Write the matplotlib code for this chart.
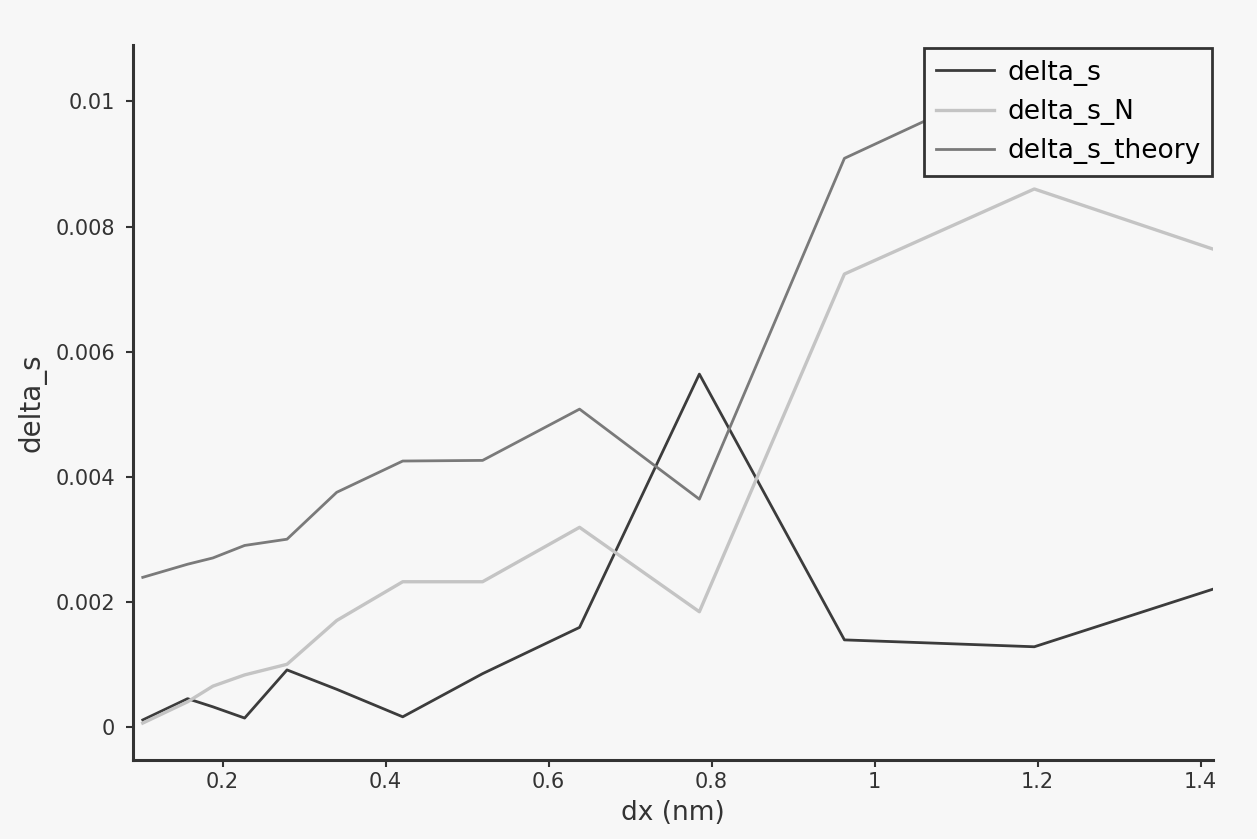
import matplotlib.pyplot as plt

# valors llegits de la figura
dx = [0.102, 0.157, 0.188, 0.227, 0.279, 0.340, 0.421, 0.519, 0.638, 0.785, 0.963, 1.196, 1.415]
delta_s = [0.00011, 0.00045, 0.00032, 0.00014, 0.00091, 0.0006, 0.00016, 0.00085,
           0.00159, 0.00564, 0.00139, 0.00128, 0.0022]
delta_s_N = [0.00006, 0.0004, 0.00065, 0.00083, 0.001, 0.0017, 0.00232, 0.00232,
             0.00319, 0.00184, 0.00724, 0.0086, 0.00764]
delta_s_theory = [0.00239, 0.0026, 0.0027, 0.0029, 0.003, 0.00375, 0.00425, 0.00426,
                  0.00508, 0.00364, 0.00909, 0.0105, 0.0096]

xticks = [0.2, 0.4, 0.6, 0.8, 1.0, 1.2, 1.4]
xtick_labels = ['0.2', '0.4', '0.6', '0.8', '1', '1.2', '1.4']
yticks = [0, 0.002, 0.004, 0.006, 0.008, 0.01]
ytick_labels = ['0', '0.002', '0.004', '0.006', '0.008', '0.01']

bg = '#f7f7f7'
fig = plt.figure(figsize=(12.57, 8.39), dpi=100, facecolor=bg)
ax = fig.add_axes([0.1058, 0.0942, 0.859, 0.852], facecolor=bg)

ax.plot(dx, delta_s, color='#3c3c3c', lw=2, label='delta_s')
ax.plot(dx, delta_s_N, color='#c4c4c4', lw=2.4, label='delta_s_N')
ax.plot(dx, delta_s_theory, color='#7a7a7a', lw=2, label='delta_s_theory')

ax.set_xlim(0.09, 1.415)
ax.set_ylim(-0.00053, 0.0109)
ax.set_xticks(xticks)
ax.set_xticklabels(xtick_labels)
ax.set_yticks(yticks)
ax.set_yticklabels(ytick_labels)

for s in ['top', 'right']:
    ax.spines[s].set_visible(False)
for s in ['left', 'bottom']:
    ax.spines[s].set_linewidth(2.2)
    ax.spines[s].set_color('#333333')
ax.tick_params(direction='out', length=5, width=1.5, colors='#333333', labelsize=15)
ax.tick_params(axis='y', pad=8)

ax.set_xlabel('dx (nm)', fontsize=19, color='#333333', labelpad=6)
ax.set_ylabel('delta_s', fontsize=20, color='#333333', labelpad=6)

leg = ax.legend(loc='upper right', bbox_to_anchor=(1.002, 1.0), borderaxespad=0.1,
                fontsize=19, fancybox=False, framealpha=1, facecolor=bg,
                edgecolor='#333333', handlelength=2.2, handletextpad=0.5,
                labelspacing=0.5, borderpad=0.45)
leg.get_frame().set_linewidth(2)

plt.savefig('out.png', dpi=100, facecolor=bg)
